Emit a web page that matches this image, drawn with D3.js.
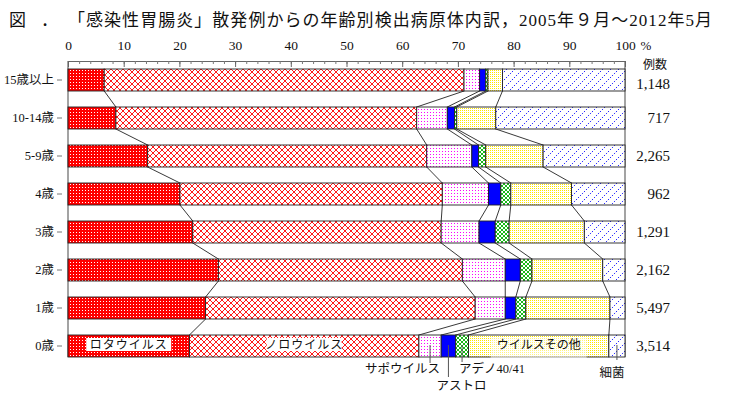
<!DOCTYPE html>
<html>
<head>
    <meta charset="utf-8">
    <title>年齢別検出病原体内訳</title>
    <script src="https://d3js.org/d3.v7.min.js"></script>
    <style>
        body { margin: 0; background: #fff; }
        text { font-family: "Liberation Serif", "Noto Sans CJK JP", serif; fill: #111; }
    </style>
</head>

<body>
<div id="chart"></div>
<script type="text/javascript">
    // 年齢区分（上から）
    const categories = ["15歳以上", "10-14歳", "5-9歳", "4歳", "3歳", "2歳", "1歳", "0歳"];

    // 病原体ごとの割合 (%)
    const rota       = [6.5, 8.6, 14.3, 20.1, 22.4, 27.0, 24.7, 21.8];
    const noro       = [64.6, 54.0, 50.1, 47.1, 44.6, 43.8, 48.4, 41.2];
    const sapo       = [2.8, 5.5, 8.1, 8.3, 6.8, 7.7, 5.4, 4.0];
    const astro      = [1.1, 1.3, 1.2, 2.2, 2.9, 2.7, 1.9, 2.6];
    const adeno      = [0.4, 0.4, 1.3, 1.8, 2.5, 2.1, 1.8, 2.3];
    const otherVirus = [2.6, 7.0, 10.3, 10.9, 13.5, 12.7, 15.1, 25.2];
    const bacteria   = [22.0, 23.2, 14.7, 9.6, 7.3, 4.0, 2.7, 2.9];

    // 例数
    const counts = ["1,148", "717", "2,265", "962", "1,291", "2,162", "5,497", "3,514"];

    const seriesNames = ["ロタウイルス", "ノロウイルス", "サポウイルス", "アストロ", "アデノ40/41", "ウイルスその他", "細菌"];
    const xTicks = [0, 10, 20, 30, 40, 50, 60, 70, 80, 90, 100];
    const xMinorTicks = d3.range(0, 101, 2);

    const keys = ["rota", "noro", "sapo", "astro", "adeno", "other", "bact"];
    const table = categories.map(function (c, i) {
        return {cat: c, rota: rota[i], noro: noro[i], sapo: sapo[i], astro: astro[i],
                adeno: adeno[i], other: otherVirus[i], bact: bacteria[i]};
    });
    const stacked = d3.stack().keys(keys)(table);

    const W = 734, H = 396;
    const svg = d3.select("#chart").append("svg")
        .attr("width", W).attr("height", H);

    const x = d3.scaleLinear().domain([0, 100]).range([68, 625]);
    const y = d3.scaleBand().domain(categories).range([61, 365])
        .paddingInner(16 / 38).paddingOuter(8 / 38);
    const bw = y.bandwidth();
    const plotBottom = y(categories[categories.length - 1]) + bw;

    // patterns
    const defs = svg.append("defs");
    function pat(id, w, h) {
        return defs.append("pattern").attr("id", id).attr("patternUnits", "userSpaceOnUse")
            .attr("width", w).attr("height", h);
    }
    let p = pat("p-rota", 3, 3);
    p.append("rect").attr("width", 3).attr("height", 3).attr("fill", "#ff0000");
    p.append("rect").attr("x", 1).attr("y", 1).attr("width", 1).attr("height", 1).attr("fill", "#fff");

    p = pat("p-noro", 6, 6);
    p.append("rect").attr("width", 6).attr("height", 6).attr("fill", "#fff");
    p.append("path").attr("d", "M0,0L6,6M6,0L0,6").attr("stroke", "#ff0000").attr("stroke-width", 0.9);

    p = pat("p-sapo", 3, 3);
    p.append("rect").attr("width", 3).attr("height", 3).attr("fill", "#fff");
    p.append("rect").attr("x", 1).attr("y", 1).attr("width", 1).attr("height", 1).attr("fill", "#ff00ff");

    p = pat("p-astro", 4, 4);
    p.append("rect").attr("width", 4).attr("height", 4).attr("fill", "#0000ff");

    p = pat("p-adeno", 4, 4);
    p.append("rect").attr("width", 4).attr("height", 4).attr("fill", "#fff");
    p.append("path").attr("d", "M0,0L4,4M4,0L0,4").attr("stroke", "#00b000").attr("stroke-width", 0.9);

    p = pat("p-other", 2, 2);
    p.append("rect").attr("width", 2).attr("height", 2).attr("fill", "#fff");
    p.append("rect").attr("width", 1).attr("height", 1).attr("fill", "#ffe800");

    p = pat("p-bact", 8, 8);
    p.append("rect").attr("width", 8).attr("height", 8).attr("fill", "#fff");
    p.append("path").attr("d", "M0,8L8,0").attr("stroke", "#0000ff").attr("stroke-width", 1)
        .attr("stroke-dasharray", "1.2,1.6");

    // title
    const title = svg.append("g").style("font-size", "17px");
    title.append("text").attr("x", 9).attr("y", 26).text("図");
    title.append("text").attr("x", 41).attr("y", 26).text("．");
    title.append("text").attr("x", 68).attr("y", 26)
        .attr("textLength", 644).attr("lengthAdjust", "spacing")
        .text("「感染性胃腸炎」散発例からの年齢別検出病原体内訳，2005年９月～2012年5月");

    // top axis
    svg.append("g").attr("transform", "translate(0,61)")
        .call(d3.axisTop(x).tickValues(xMinorTicks).tickSize(-3).tickSizeOuter(0).tickFormat(""))
        .call(g => g.select(".domain").attr("stroke", "#666"))
        .call(g => g.selectAll(".tick line").attr("stroke", "#777"));
    svg.append("g").attr("transform", "translate(0,61)")
        .call(d3.axisTop(x).tickValues(xTicks).tickSize(-6).tickSizeOuter(0).tickPadding(11))
        .call(g => g.select(".domain").remove())
        .call(g => g.selectAll(".tick line").attr("stroke", "#666"))
        .call(g => g.selectAll(".tick text")
            .style("font-family", '"Liberation Serif", serif').style("font-size", "13.5px").attr("fill", "#111"));
    svg.append("text").attr("x", x(100) + 21).attr("y", 50).attr("text-anchor", "middle")
        .style("font-size", "13px").text("%");

    // frame
    svg.append("line").attr("x1", x(0)).attr("x2", x(0)).attr("y1", 61).attr("y2", plotBottom)
        .attr("stroke", "#666").attr("stroke-width", 1.2);
    svg.append("line").attr("x1", x(100)).attr("x2", x(100)).attr("y1", 61).attr("y2", plotBottom)
        .attr("stroke", "#666").attr("stroke-width", 1.2);

    // left labels
    svg.append("g").attr("transform", "translate(62,0)")
        .call(d3.axisLeft(y).tickSize(5).tickPadding(3))
        .call(g => g.select(".domain").remove())
        .call(g => g.selectAll(".tick line").attr("stroke", "#777"))
        .call(g => g.selectAll(".tick text").style("font-size", "12.5px").attr("fill", "#111"));

    // connecting lines between bars
    const conn = svg.append("g").attr("stroke", "#222").attr("stroke-width", 0.9);
    stacked.slice(0, keys.length - 1).forEach(function (s) {
        for (let i = 0; i < categories.length - 1; i++) {
            conn.append("line")
                .attr("x1", x(s[i][1])).attr("y1", y(categories[i]) + bw)
                .attr("x2", x(s[i + 1][1])).attr("y2", y(categories[i + 1]));
        }
    });

    // bars
    svg.append("g").selectAll("g")
        .data(stacked)
        .enter().append("g")
        .attr("fill", d => "url(#p-" + d.key + ")")
        .selectAll("rect")
        .data(d => d)
        .enter().append("rect")
        .attr("x", d => x(d[0]))
        .attr("y", d => y(d.data.cat))
        .attr("width", d => x(d[1]) - x(d[0]))
        .attr("height", bw)
        .attr("stroke", "#222").attr("stroke-width", 0.9);

    // counts
    svg.append("text").attr("x", 655).attr("y", 69).attr("text-anchor", "middle")
        .style("font-size", "12px").text("例数");
    svg.append("g").selectAll("text")
        .data(counts)
        .enter().append("text")
        .attr("x", 670)
        .attr("y", (d, i) => y(categories[i]) + bw / 2 + 5 + (i === 0 ? 4 : 0))
        .attr("text-anchor", "end")
        .style("font-size", "15px")
        .text(d => d);

    // labels on the 0歳 bar
    const last = categories.length - 1;
    const yl = y(categories[last]);
    function segMid(k) { return x((stacked[k][last][0] + stacked[k][last][1]) / 2); }

    [[0, 85, 13, 1], [1, 75, 13, 1], [5, 96, 20, 0.5]].forEach(function (a) {
        const cx = segMid(a[0]);
        svg.append("rect").attr("x", cx - a[1] / 2).attr("y", yl + 3)
            .attr("width", a[1]).attr("height", a[2])
            .attr("fill", "#fff").attr("fill-opacity", a[3]);
        svg.append("text").attr("x", cx).attr("y", yl + 14).attr("text-anchor", "middle")
            .style("font-size", "12px").style("letter-spacing", a[0] === 5 ? "0px" : "1px")
            .text(seriesNames[a[0]]);
    });

    // leader labels below
    const leaders = [
        {k: 2, y2: 363, tx: 10, ty: 373, anchor: "end"},
        {k: 3, y2: 377, tx: 13, ty: 390, anchor: "middle"},
        {k: 4, y2: 362, tx: -3, ty: 373, anchor: "start"},
        {k: 6, y2: 360, tx: -5, ty: 377, anchor: "middle"}
    ];
    leaders.forEach(function (l) {
        const lx = segMid(l.k);
        svg.append("line").attr("x1", lx).attr("x2", lx)
            .attr("y1", yl + bw / 2 - 1).attr("y2", l.y2)
            .attr("stroke", "#555").attr("stroke-width", 1);
        svg.append("text").attr("x", lx + l.tx).attr("y", l.ty)
            .attr("text-anchor", l.anchor).style("font-size", "12.5px")
            .text(seriesNames[l.k]);
    });
</script>
</body>
</html>
